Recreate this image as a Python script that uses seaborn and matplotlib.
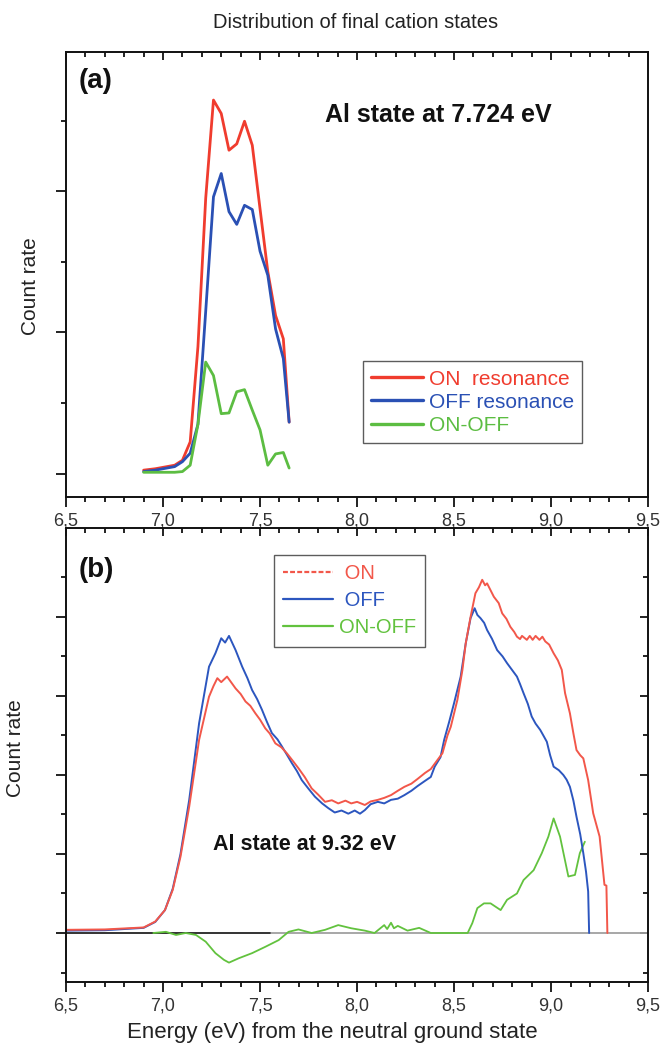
"""Distribution of final cation states: two stacked count-rate panels."""

import matplotlib
matplotlib.use("Agg")
import matplotlib.pyplot as plt
import seaborn as sns
from matplotlib.lines import Line2D
from matplotlib.ticker import FixedLocator, FuncFormatter, MultipleLocator

# ---- panel (a): Al state at 7.724 eV ----
energy_a = [6.90, 6.96, 7.02, 7.06, 7.10, 7.14, 7.18, 7.22, 7.26, 7.30,
            7.34, 7.38, 7.42, 7.46, 7.50, 7.54, 7.58, 7.62, 7.65]
on_a = [0.05, 0.07, 0.10, 0.12, 0.19, 0.45, 1.80, 3.90, 5.29, 5.10,
        4.58, 4.67, 4.99, 4.65, 3.75, 2.86, 2.24, 1.91, 0.73]
off_a = [0.03, 0.05, 0.08, 0.10, 0.17, 0.29, 0.70, 2.30, 3.92, 4.25,
         3.71, 3.53, 3.80, 3.74, 3.15, 2.81, 2.05, 1.63, 0.73]
diff_a = [0.02, 0.02, 0.02, 0.02, 0.03, 0.12, 0.70, 1.58, 1.39, 0.85,
          0.86, 1.16, 1.19, 0.90, 0.62, 0.12, 0.28, 0.30, 0.08]

# ---- panel (b): Al state at 9.32 eV ----
energy_on_b = [6.50, 6.70, 6.90, 6.96, 7.01, 7.05, 7.09, 7.135, 7.186, 7.237,
               7.26, 7.28, 7.30, 7.33, 7.374, 7.40, 7.425, 7.45, 7.476, 7.50,
               7.527, 7.55, 7.579, 7.61, 7.638, 7.67, 7.698, 7.73, 7.766, 7.80,
               7.835, 7.87, 7.903, 7.94, 7.97, 8.00, 8.04, 8.07, 8.107, 8.14,
               8.175, 8.21, 8.244, 8.28, 8.312, 8.35, 8.38, 8.41, 8.44, 8.466,
               8.483, 8.517, 8.543, 8.56, 8.585, 8.61, 8.628, 8.645, 8.66, 8.67,
               8.705, 8.73, 8.748, 8.77, 8.79, 8.81, 8.824, 8.84, 8.85, 8.875,
               8.89, 8.905, 8.92, 8.94, 8.955, 8.97, 8.99, 9.013, 9.035, 9.055,
               9.072, 9.097, 9.115, 9.131, 9.15, 9.166, 9.191, 9.217, 9.25, 9.275,
               9.285, 9.29]
count_on_b = [0.08, 0.09, 0.14, 0.29, 0.58, 1.09, 1.93, 3.20, 4.89, 5.98,
              6.25, 6.45, 6.35, 6.49, 6.19, 6.05, 5.86, 5.75, 5.56, 5.40,
              5.18, 5.05, 4.80, 4.70, 4.55, 4.35, 4.17, 3.95, 3.66, 3.50,
              3.32, 3.36, 3.28, 3.35, 3.28, 3.32, 3.24, 3.33, 3.37, 3.42,
              3.49, 3.60, 3.70, 3.78, 3.90, 4.05, 4.15, 4.35, 4.55, 5.00,
              5.22, 5.90, 6.66, 7.33, 8.00, 8.60, 8.75, 8.94, 8.80, 8.85,
              8.51, 8.35, 8.09, 7.95, 7.75, 7.62, 7.50, 7.44, 7.52, 7.42,
              7.52, 7.42, 7.52, 7.42, 7.50, 7.38, 7.30, 7.08, 6.90, 6.66,
              6.07, 5.56, 5.05, 4.63, 4.50, 4.42, 3.87, 3.03, 2.44, 1.22,
              1.20, 0.00]

energy_off_b = [6.50, 6.70, 6.90, 6.96, 7.01, 7.05, 7.09, 7.135, 7.186, 7.237,
                7.27, 7.30, 7.32, 7.34, 7.374, 7.408, 7.435, 7.459, 7.485, 7.51,
                7.535, 7.561, 7.59, 7.613, 7.64, 7.664, 7.69, 7.715, 7.75, 7.783,
                7.82, 7.852, 7.885, 7.92, 7.955, 7.988, 8.015, 8.04, 8.07, 8.107,
                8.14, 8.175, 8.21, 8.244, 8.28, 8.312, 8.35, 8.38, 8.40, 8.43,
                8.449, 8.475, 8.50, 8.534, 8.56, 8.585, 8.606, 8.62, 8.636, 8.655,
                8.67, 8.695, 8.722, 8.75, 8.773, 8.80, 8.824, 8.84, 8.858, 8.88,
                8.90, 8.92, 8.944, 8.96, 8.978, 8.995, 9.013, 9.04, 9.063, 9.08,
                9.097, 9.115, 9.131, 9.15, 9.166, 9.18, 9.191, 9.196]
count_off_b = [0.06, 0.07, 0.13, 0.28, 0.58, 1.12, 2.00, 3.37, 5.31, 6.74,
               7.08, 7.46, 7.35, 7.52, 7.16, 6.74, 6.45, 6.15, 5.92, 5.65,
               5.35, 5.06, 4.90, 4.72, 4.50, 4.30, 4.10, 3.87, 3.65, 3.45,
               3.28, 3.16, 3.05, 3.10, 3.02, 3.10, 3.02, 3.11, 3.26, 3.32,
               3.28, 3.37, 3.40, 3.49, 3.60, 3.72, 3.85, 3.95, 4.21, 4.45,
               4.89, 5.35, 5.82, 6.49, 7.33, 7.97, 8.22, 8.05, 7.97, 7.85,
               7.67, 7.45, 7.16, 7.00, 6.83, 6.65, 6.49, 6.30, 6.07, 5.80,
               5.48, 5.30, 5.14, 5.00, 4.84, 4.50, 4.21, 4.12, 4.00, 3.88,
               3.70, 3.35, 2.94, 2.50, 2.02, 1.55, 1.05, 0.00]

energy_diff_b = [6.95, 7.015, 7.067, 7.117, 7.17, 7.22, 7.27, 7.314, 7.34, 7.39,
                 7.459, 7.527, 7.596, 7.647, 7.698, 7.766, 7.835, 7.903, 7.97, 8.04,
                 8.09, 8.14, 8.155, 8.175, 8.19, 8.21, 8.26, 8.32, 8.38, 8.57,
                 8.594, 8.62, 8.654, 8.688, 8.74, 8.773, 8.824, 8.858, 8.91, 8.952,
                 8.986, 9.013, 9.046, 9.089, 9.123, 9.148, 9.174]
count_diff_b = [0.00, 0.03, -0.05, 0.00, -0.05, -0.22, -0.51, -0.68, -0.75, -0.64,
                -0.51, -0.35, -0.18, 0.03, 0.09, 0.00, 0.08, 0.20, 0.12, 0.06,
                0.00, 0.20, 0.10, 0.26, 0.12, 0.18, 0.06, 0.13, 0.00, 0.00,
                0.25, 0.63, 0.75, 0.75, 0.58, 0.84, 1.00, 1.34, 1.59, 2.02,
                2.44, 2.90, 2.44, 1.43, 1.47, 2.02, 2.31]

X_RANGE = (6.5, 9.5)
BASELINE_SPLIT = 7.55  # dark part of the zero line in (b)

RED_A, BLUE_A, GREEN_A = "#f03c2e", "#2a50b4", "#5cbd42"
RED_B, BLUE_B, GREEN_B = "#f2574a", "#2c56bf", "#62c23e"


def comma_fmt(v, _pos):
    return f"{v:.1f}".replace(".", ",")


def style_axes(ax, yticks, yminor, right_ticks):
    ax.set_xlim(*X_RANGE)
    ax.xaxis.set_major_locator(MultipleLocator(0.5))
    ax.xaxis.set_minor_locator(MultipleLocator(0.1))
    ax.xaxis.set_major_formatter(FuncFormatter(comma_fmt))
    ax.yaxis.set_major_locator(FixedLocator(yticks))
    ax.yaxis.set_minor_locator(FixedLocator(yminor))
    ax.tick_params(which="both", direction="out", left=True, bottom=True,
                   top=False, right=False, labelleft=False, width=1.3,
                   colors="#111111", labelcolor="#333333", labelsize=13)
    ax.tick_params(which="major", length=7, pad=4)
    ax.tick_params(which="minor", length=3.5)
    for sp in ax.spines.values():
        sp.set_visible(True)
        sp.set_color("#111111")
        sp.set_linewidth(1.4)
    ax.set_xlabel("")
    ax.set_ylabel("")

    top = ax.secondary_xaxis("top")
    top.xaxis.set_major_locator(MultipleLocator(0.5))
    top.xaxis.set_minor_locator(MultipleLocator(0.1))
    top.tick_params(which="both", direction="in", labeltop=False, width=1.3,
                    colors="#111111")
    top.tick_params(which="major", length=6)
    top.tick_params(which="minor", length=3.5)
    top.spines["top"].set_visible(False)

    if right_ticks:
        rt = ax.secondary_yaxis("right")
        rt.yaxis.set_major_locator(FixedLocator(yticks))
        rt.yaxis.set_minor_locator(FixedLocator(yminor))
        rt.tick_params(which="both", direction="in", labelright=False,
                       width=1.3, colors="#111111")
        rt.tick_params(which="major", length=6)
        rt.tick_params(which="minor", length=3.5)
        rt.spines["right"].set_visible(False)


def main():
    sns.set_theme(style="white")
    plt.rcParams["font.family"] = ["Liberation Sans", "DejaVu Sans"]

    fig = plt.figure(figsize=(6.6, 10.45), dpi=100)
    fig.patch.set_facecolor("white")

    # ---------- panel (a) ----------
    ax_a = fig.add_axes([0.100, 0.5244, 0.882, 0.4258])
    sns.lineplot(x=energy_a, y=on_a, ax=ax_a, color=RED_A, lw=2.0,
                 label="ON  resonance", estimator=None, sort=False)
    sns.lineplot(x=energy_a, y=off_a, ax=ax_a, color=BLUE_A, lw=2.0,
                 label="OFF resonance", estimator=None, sort=False)
    sns.lineplot(x=energy_a, y=diff_a, ax=ax_a, color=GREEN_A, lw=2.0,
                 label="ON-OFF", estimator=None, sort=False)
    ax_a.set_ylim(-0.33, 5.97)
    style_axes(ax_a, [0, 2, 4], [1, 3, 5], right_ticks=False)
    ax_a.set_ylabel("Count rate", fontsize=15, color="#222222")
    ax_a.yaxis.set_label_coords(-0.045, 0.474)

    leg = ax_a.legend(loc="upper left", bbox_to_anchor=(0.51, 0.305),
                      fontsize=15, frameon=True, fancybox=False,
                      edgecolor="#333333", handlelength=2.5, handletextpad=0.25,
                      labelspacing=0.2, borderpad=0.4, borderaxespad=0)
    leg.get_frame().set_linewidth(1.0)
    for txt, line in zip(leg.get_texts(), leg.get_lines()):
        txt.set_color(line.get_color())
        line.set_linewidth(2.4)

    ax_a.text(0.021, 0.935, "(a)", transform=ax_a.transAxes, fontsize=20,
              fontweight="bold", va="center", ha="left", color="#111111")
    ax_a.text(0.445, 0.858, "Al state at 7.724 eV", transform=ax_a.transAxes,
              fontsize=18, fontweight="bold", va="center", ha="left",
              color="#111111")

    # ---------- panel (b) ----------
    ax_b = fig.add_axes([0.100, 0.0603, 0.882, 0.4344])
    ax_b.axhline(0, xmin=0, xmax=1, color="#a0a0a0", lw=1.3, zorder=1)
    split = (BASELINE_SPLIT - X_RANGE[0]) / (X_RANGE[1] - X_RANGE[0])
    ax_b.axhline(0, xmin=0, xmax=split, color="#222222", lw=1.2, zorder=1)
    sns.lineplot(x=energy_diff_b, y=count_diff_b, ax=ax_b, color=GREEN_B,
                 lw=1.3, estimator=None, sort=False)
    sns.lineplot(x=energy_off_b, y=count_off_b, ax=ax_b, color=BLUE_B,
                 lw=1.4, estimator=None, sort=False)
    sns.lineplot(x=energy_on_b, y=count_on_b, ax=ax_b, color=RED_B,
                 lw=1.4, estimator=None, sort=False)
    ax_b.set_ylim(-1.24, 10.25)
    style_axes(ax_b, [0, 2, 4, 6, 8], [-1, 1, 3, 5, 7, 9], right_ticks=True)
    ax_b.set_ylabel("Count rate", fontsize=15, color="#222222")
    ax_b.yaxis.set_label_coords(-0.07, 0.515)
    ax_b.set_xlabel("Energy (eV) from the neutral ground state", fontsize=16,
                    color="#222222")
    ax_b.xaxis.set_label_coords(0.457, -0.088)

    handles = [Line2D([], [], color=RED_B, lw=1.6, ls=(0, (2.2, 1.0))),
               Line2D([], [], color=BLUE_B, lw=1.6),
               Line2D([], [], color=GREEN_B, lw=1.6)]
    leg_b = ax_b.legend(handles, [" ON", " OFF", "ON-OFF"],
                        loc="upper left", bbox_to_anchor=(0.357, 0.94),
                        fontsize=14.5, frameon=True, fancybox=False,
                        edgecolor="#333333", handlelength=2.5,
                        handletextpad=0.3, labelspacing=0.4, borderpad=0.45,
                        borderaxespad=0)
    leg_b.get_frame().set_linewidth(1.0)
    for txt, col in zip(leg_b.get_texts(), [RED_B, BLUE_B, GREEN_B]):
        txt.set_color(col)

    ax_b.text(0.021, 0.907, "(b)", transform=ax_b.transAxes, fontsize=20,
              fontweight="bold", va="center", ha="left", color="#111111")
    ax_b.text(0.253, 0.302, "Al state at 9.32 eV", transform=ax_b.transAxes,
              fontsize=15.5, fontweight="bold", va="center", ha="left",
              color="#111111")

    fig.text(0.539, 1 - 22 / 1045, "Distribution of final cation states",
             fontsize=14.5, ha="center", va="center", color="#222222")

    fig.savefig("out.png", dpi=100)
    plt.close(fig)


if __name__ == "__main__":
    main()
